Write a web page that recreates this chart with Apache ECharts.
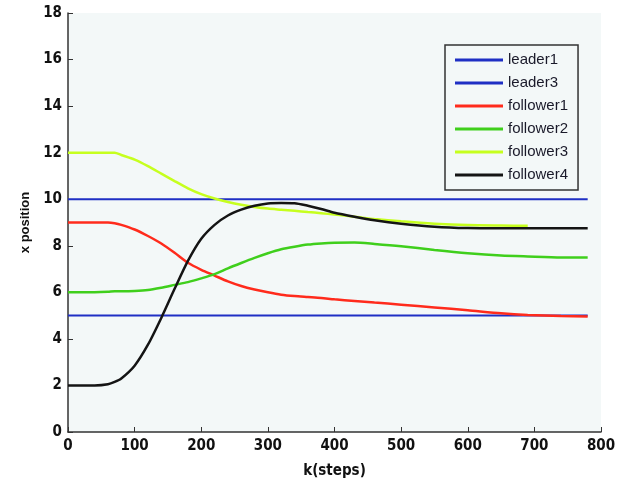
<!DOCTYPE html>
<html>
<head>
<meta charset="UTF-8">
<title>x position</title>
<script src="https://cdn.jsdelivr.net/npm/echarts@6/dist/echarts.min.js"></script>
<style>
  html, body { margin: 0; padding: 0; background: #fff; }
</style>
</head>
<body>
	<div id="container" style="width:632px;height:484px;"></div>
	<script type="text/javascript">
	// k (steps) sample points
	var kSteps = [0, 20, 40, 60, 70, 80, 100, 120, 140, 160, 180, 200, 220, 240, 260, 280, 300, 320, 340, 360, 380, 400, 430, 460, 500, 550, 600, 650, 690, 740, 780];

	var leader1   = [10, 10, 10, 10, 10, 10, 10, 10, 10, 10, 10, 10, 10, 10, 10, 10, 10, 10, 10, 10, 10, 10, 10, 10, 10, 10, 10, 10, 10, 10, 10];
	var leader3   = [5, 5, 5, 5, 5, 5, 5, 5, 5, 5, 5, 5, 5, 5, 5, 5, 5, 5, 5, 5, 5, 5, 5, 5, 5, 5, 5, 5, 5, 5, 5];
	var follower1 = [9, 9, 9, 9, 8.97, 8.9, 8.7, 8.42, 8.1, 7.7, 7.27, 6.97, 6.72, 6.47, 6.27, 6.12, 6.0, 5.9, 5.84, 5.8, 5.76, 5.7, 5.63, 5.56, 5.47, 5.35, 5.23, 5.1, 5.03, 4.98, 4.96];
	var follower2 = [6, 6, 6, 6.02, 6.05, 6.05, 6.06, 6.1, 6.2, 6.32, 6.44, 6.6, 6.78, 7.03, 7.26, 7.48, 7.68, 7.85, 7.96, 8.05, 8.1, 8.13, 8.14, 8.08, 7.98, 7.82, 7.68, 7.58, 7.54, 7.5, 7.5];
	var follower3 = [12, 12, 12, 12, 12, 11.9, 11.7, 11.42, 11.1, 10.78, 10.47, 10.22, 10.03, 9.88, 9.76, 9.67, 9.6, 9.55, 9.5, 9.45, 9.4, 9.34, 9.25, 9.15, 9.05, 8.95, 8.89, 8.87, 8.86, null, null];
	var follower4 = [2, 2, 2, 2.05, 2.15, 2.3, 2.85, 3.75, 4.9, 6.15, 7.35, 8.3, 8.9, 9.3, 9.55, 9.72, 9.82, 9.84, 9.83, 9.72, 9.58, 9.42, 9.25, 9.1, 8.95, 8.82, 8.76, 8.75, 8.75, 8.75, 8.75];

	var names  = ['leader1', 'leader3', 'follower1', 'follower2', 'follower3', 'follower4'];
	var colors = ['#1f2fc4', '#1f2fc4', '#ff2b1c', '#3fcf1c', '#c6ff1e', '#141414'];
	var values = [leader1, leader3, follower1, follower2, follower3, follower4];

	function pairs(arr) {
		var out = [];
		for (var i = 0; i < kSteps.length; i++) {
			if (arr[i] != null) out.push([kSteps[i], arr[i]]);
		}
		return out;
	}

	var series = [];
	for (var s = 0; s < names.length; s++) {
		series.push({
			name: names[s],
			type: 'line',
			smooth: 0.25,
			symbol: 'none',
			data: pairs(values[s]),
			lineStyle: { color: colors[s], width: s < 2 ? 2 : 2.5 },
			itemStyle: { color: colors[s] }
		});
	}

	var myChart = echarts.init(document.getElementById('container'));
	var condensed = '"DejaVu Sans Condensed", "Liberation Sans Narrow", "Liberation Sans", Arial, sans-serif';
	var tickFont = { color: '#111', fontWeight: 'bold', fontSize: 15, fontFamily: condensed };

	var option = {
		animation: false,
		backgroundColor: '#ffffff',
		grid: {
			left: 68, right: 31, top: 13, bottom: 52,
			show: true, backgroundColor: '#f3f8f8', borderWidth: 0
		},
		legend: {
			data: names,
			orient: 'vertical',
			left: 445, top: 45,
			padding: [7, 10, 7, 10],
			width: 133,
			backgroundColor: '#f3f8f8',
			borderColor: '#333',
			borderWidth: 1.5,
			icon: 'rect',
			itemWidth: 48, itemHeight: 3,
			itemGap: 7,
			textStyle: { color: '#1a1a2a', fontSize: 15, fontFamily: '"Liberation Sans", Arial, sans-serif', lineHeight: 16 }
		},
		xAxis: {
			type: 'value',
			min: 0, max: 800, interval: 100,
			name: 'k(steps)',
			nameLocation: 'middle',
			nameGap: 32,
			nameTextStyle: tickFont,
			axisLine: { lineStyle: { color: '#333', width: 1.5 } },
			axisTick: { inside: true, length: 5, lineStyle: { color: '#333' } },
			axisLabel: Object.assign({ margin: 7 }, tickFont),
			splitLine: { show: false }
		},
		yAxis: {
			type: 'value',
			min: 0, max: 18, interval: 2,
			name: 'x position',
			nameLocation: 'middle',
			nameGap: 34,
			nameTextStyle: { color: '#111', fontWeight: 'bold', fontSize: 13, fontFamily: '"Liberation Sans", Arial, sans-serif' },
			axisLine: { show: true, lineStyle: { color: '#333', width: 1.5 } },
			axisTick: { show: true, inside: true, length: 5, lineStyle: { color: '#333' } },
			axisLabel: Object.assign({ margin: 6 }, tickFont),
			splitLine: { show: false }
		},
		series: series
	};

	myChart.setOption(option);
    </script>
</body>
</html>
